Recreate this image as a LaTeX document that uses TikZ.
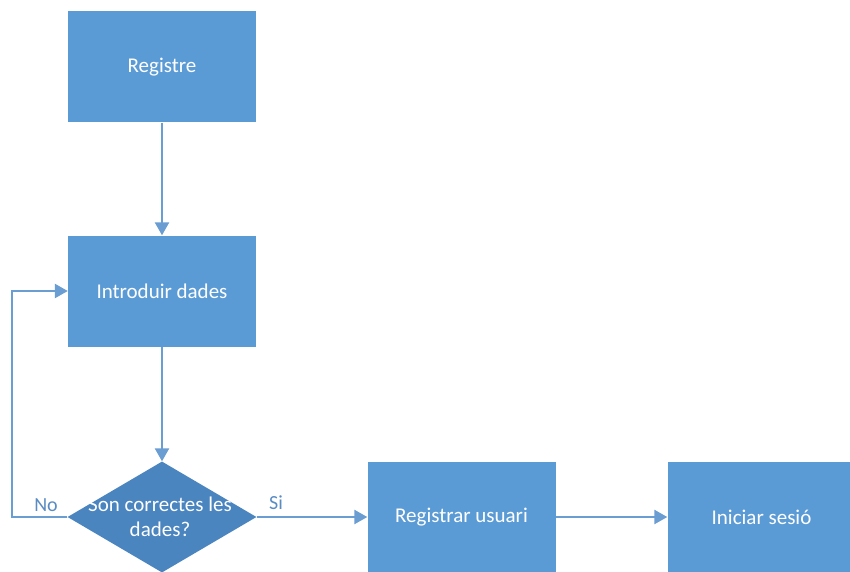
\documentclass[tikz,border=0pt]{standalone}
\usepackage{fontspec}
\setmainfont{Carlito}
\usetikzlibrary{shapes.geometric,arrows.meta}
\definecolor{boxblue}{HTML}{5B9BD5}
\definecolor{diablue}{HTML}{4A85C0}
\definecolor{lineblue}{HTML}{6A9ED2}
\definecolor{lblblue}{HTML}{5A8CC4}
\begin{document}
\begin{tikzpicture}[x=1pt,y=-1pt,
  procbox/.style={rectangle,fill=boxblue,text=white,minimum width=188pt,minimum height=111pt,inner sep=0pt,font=\fontsize{21}{25}\selectfont},
  decbox/.style={diamond,fill=diablue,minimum width=189pt,minimum height=111pt,inner sep=0pt},
  conn/.style={draw=lineblue,line width=2.4pt,-{Triangle[length=13pt,width=14pt]}},
  lbl/.style={text=lblblue,font=\fontsize{20}{24}\selectfont}]
\useasboundingbox (0,0) rectangle (850,572);
\clip (0,0) rectangle (850,572);
\fill[white] (0,0) rectangle (850,572);
\node[procbox] (reg) at (162,67) {Registre};
\node[procbox] (intro) at (162,291) {Introduir dades};
\node[decbox] (dec) at (162,517) {};
\node[text=white,align=center,font=\fontsize{21}{25}\selectfont] (dectext) at (160,517) {Son correctes les\\dades?};
\node[procbox] (regu) at (461.5,517) {Registrar usuari};
\node[procbox] (ini) at (761.5,517) {Iniciar sesió};
\coordinate (nl) at (12,517);
\coordinate (nu) at (12,291);
\draw[conn] (reg) -- (intro);
\draw[conn] (intro) -- (dec);
\draw[conn] (dec.west) -- (nl) -- (nu) -- (intro.west);
\draw[conn] (dec.east) -- (regu.west);
\draw[conn] (regu.east) -- (ini.west);
\node[lbl] (no) at (46,505) {No};
\node[lbl] (si) at (276,503) {Si};
\end{tikzpicture}
\end{document}
